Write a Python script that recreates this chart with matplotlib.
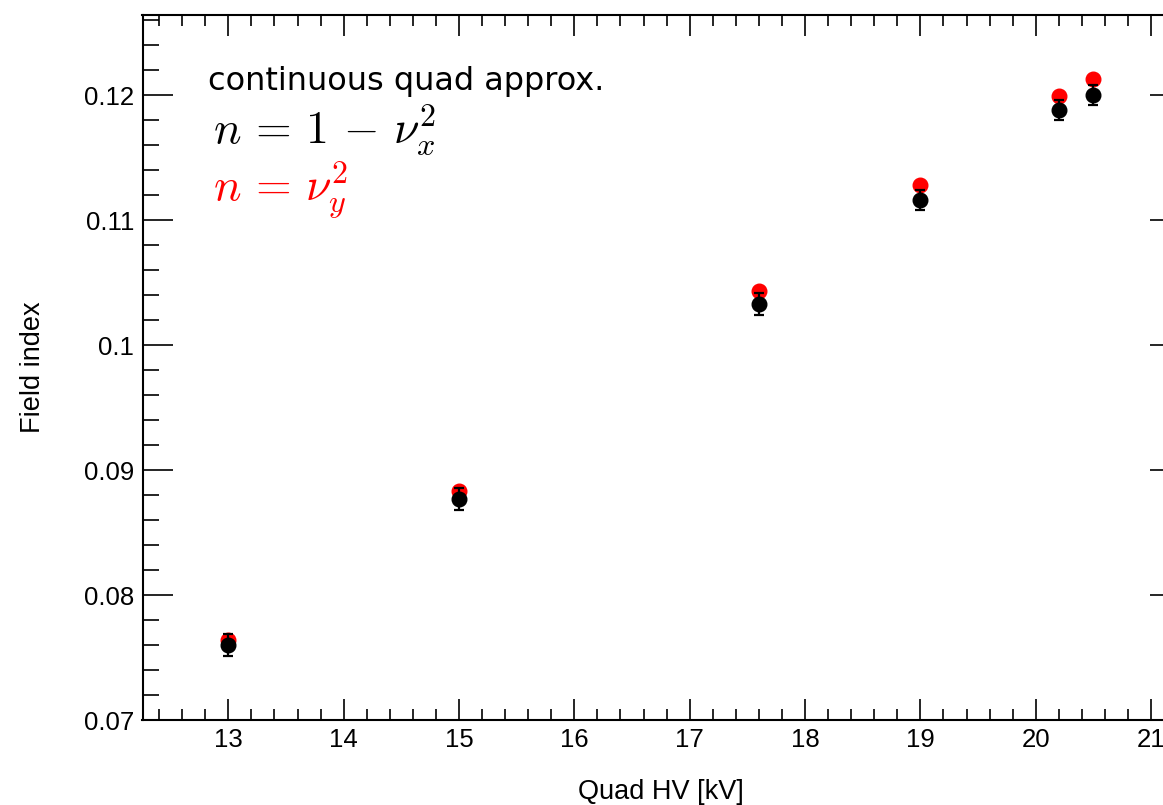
import numpy as np
import matplotlib.pyplot as plt
from matplotlib.ticker import MultipleLocator, FixedLocator

# Data
hv = [13.0, 15.0, 17.6, 19.0, 20.2, 20.5]             # Quad HV [kV]
n_from_nux = [0.0760, 0.0877, 0.1033, 0.1116, 0.1188, 0.1200]   # n = 1 - nu_x^2
n_err = [0.0009, 0.0009, 0.0009, 0.0008, 0.0008, 0.0008]
n_from_nuy = [0.0764, 0.0883, 0.1043, 0.1128, 0.1199, 0.1213]   # n = nu_y^2

yticks = [0.07, 0.08, 0.09, 0.10, 0.11, 0.12]
ytick_labels = ["0.07", "0.08", "0.09", "0.1", "0.11", "0.12"]

W, H = 1163, 805
fig = plt.figure(figsize=(W / 100, H / 100), dpi=100)
# right spine sits just outside the picture, as in the reference
ax = fig.add_axes([142.5 / W, (H - 720) / H, (1180 - 142.5) / W, (720 - 15) / H])

ax.plot(hv, n_from_nuy, 'o', color='red', markersize=10.5, zorder=2)
ax.errorbar(hv, n_from_nux, yerr=n_err, fmt='o', color='black', markersize=10.5,
            elinewidth=1.6, capsize=3.5, capthick=1.6, zorder=3)

ax.set_xlim(12.256, 21.251)
ax.set_ylim(0.07, 0.1264)

ax.xaxis.set_major_locator(MultipleLocator(1))
ax.xaxis.set_minor_locator(MultipleLocator(0.2))
ax.yaxis.set_major_locator(FixedLocator(yticks))
ax.yaxis.set_minor_locator(MultipleLocator(0.002))
ax.set_yticklabels(ytick_labels)

ax.tick_params(axis='both', which='both', direction='in', top=True, right=True,
               width=1.2, colors='black', labelsize=18.5)
ax.tick_params(axis='x', which='major', length=15, pad=6)
ax.tick_params(axis='x', which='minor', length=8)
ax.tick_params(axis='y', which='major', length=21.5, pad=6)
ax.tick_params(axis='y', which='minor', length=11.5)
for lab in ax.get_xticklabels() + ax.get_yticklabels():
    lab.set_family('Liberation Sans')
for s in ax.spines.values():
    s.set_linewidth(1.5)

ax.set_xlabel("Quad HV [kV]", fontsize=19.5, family='Liberation Sans', labelpad=19)
ax.set_ylabel("Field index", fontsize=19.5, family='Liberation Sans', labelpad=27)

ax.text(0.0633, 0.8936, "continuous quad approx.", transform=ax.transAxes,
        fontsize=23, family='DejaVu Sans', va='baseline')
ax.text(0.068, 0.818, r"$n \,=\, 1 \,-\, \nu_x^2$", transform=ax.transAxes,
        fontsize=33, math_fontfamily='cm', va='baseline')
ax.text(0.068, 0.7376, r"$n \,=\, \nu_y^2$", transform=ax.transAxes, color='red',
        fontsize=33, math_fontfamily='cm', va='baseline')

fig.savefig("out.png", dpi=100)
